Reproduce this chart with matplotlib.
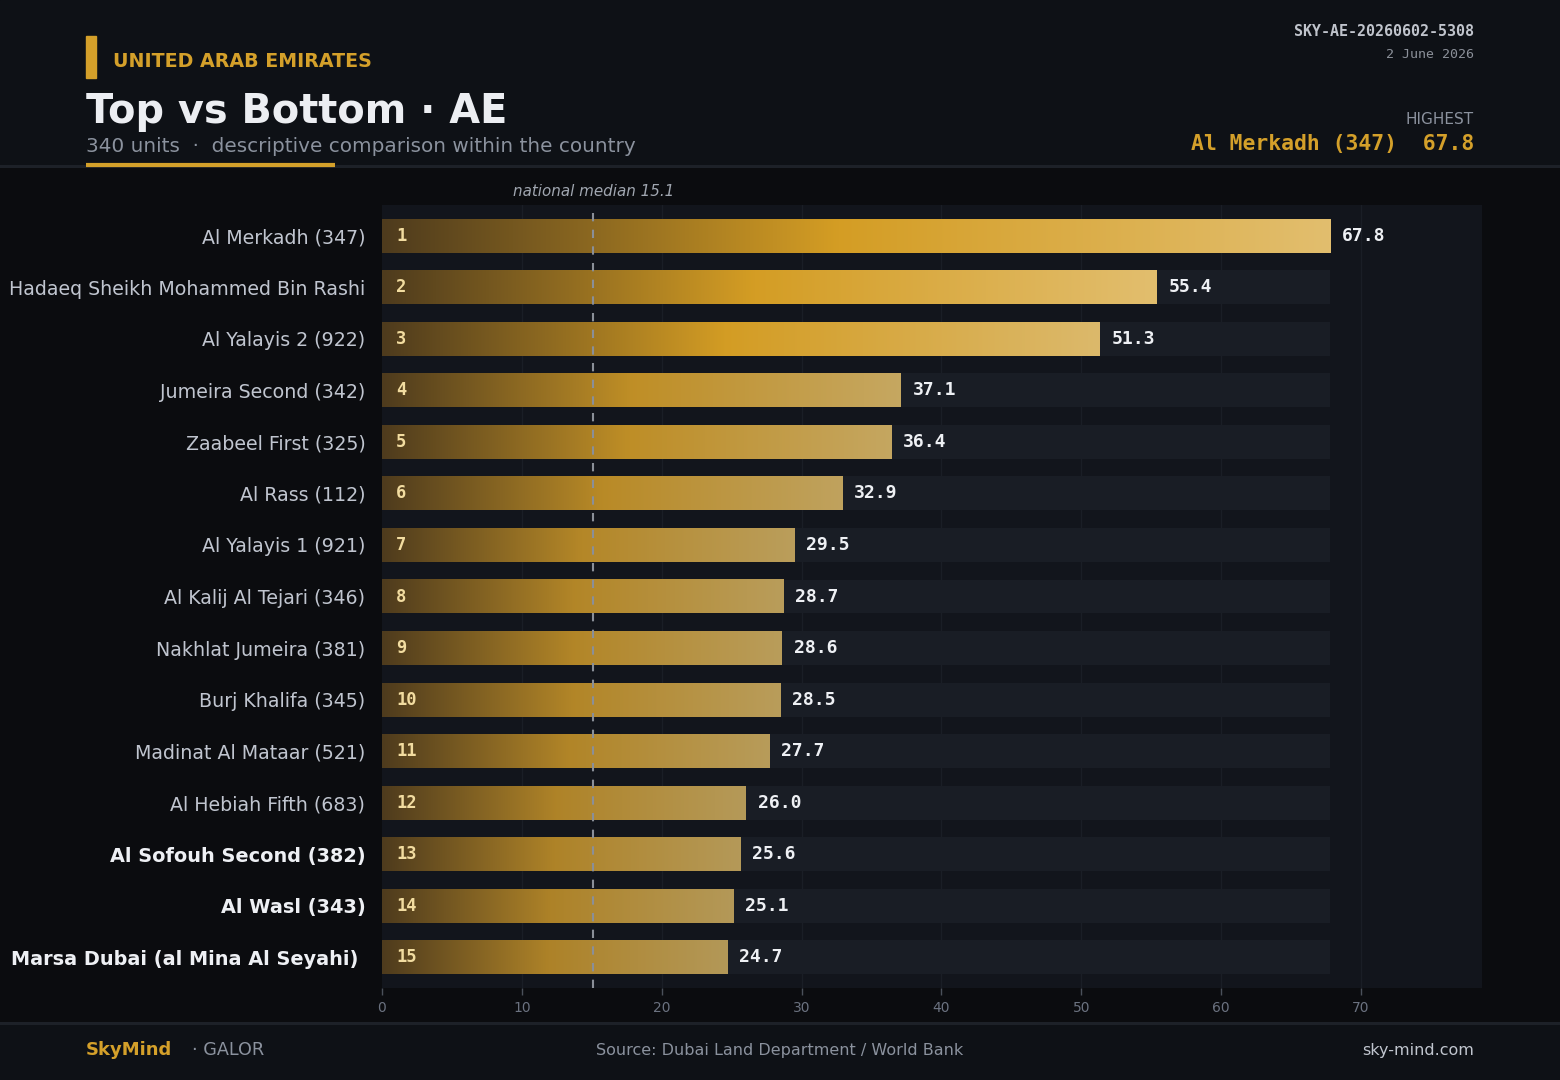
import numpy as np
import matplotlib
matplotlib.use("Agg")
import matplotlib.pyplot as plt
from matplotlib.colors import to_rgb
import matplotlib.transforms as mtransforms

# data
labels = ["Al Merkadh (347)", "Hadaeq Sheikh Mohammed Bin Rashi", "Al Yalayis 2 (922)",
          "Jumeira Second (342)", "Zaabeel First (325)", "Al Rass (112)",
          "Al Yalayis 1 (921)", "Al Kalij Al Tejari (346)", "Nakhlat Jumeira (381)",
          "Burj Khalifa (345)", "Madinat Al Mataar (521)", "Al Hebiah Fifth (683)",
          "Al Sofouh Second (382)", "Al Wasl (343)", "Marsa Dubai (al Mina Al Seyahi) "]
values = [67.8, 55.4, 51.3, 37.1, 36.4, 32.9, 29.5, 28.7, 28.6, 28.5, 27.7, 26.0, 25.6, 25.1, 24.7]
ranks = list(range(1, 16))
bold_rows = [12, 13, 14]
median = 15.1
xticks = [0, 10, 20, 30, 40, 50, 60, 70]

BG = "#0b0c0f"
HEAD = "#0e1116"
GOLD = "#d4a02a"
GREY = "#8b929e"

fig = plt.figure(figsize=(15.6, 10.8), dpi=100, facecolor=BG)

# header / footer panels
fig.patches.append(plt.Rectangle((0, 1 - 165 / 1080), 1, 165 / 1080, transform=fig.transFigure,
                                 color=HEAD, zorder=0))
fig.patches.append(plt.Rectangle((0, 0), 1, 56 / 1080, transform=fig.transFigure,
                                 color=HEAD, zorder=0))
fig.add_artist(plt.Line2D([0, 1], [1 - 166 / 1080] * 2, color="#1d2128", lw=2.2))
fig.add_artist(plt.Line2D([0, 1], [1 - 1023 / 1080] * 2, color="#1d2128", lw=2.2))
fig.add_artist(plt.Line2D([86 / 1560, 335 / 1560], [1 - 165 / 1080] * 2, color=GOLD, lw=3,
                          solid_capstyle="butt"))
fig.patches.append(plt.Rectangle((86 / 1560, 1 - 78 / 1080), 10 / 1560, 42 / 1080,
                                 transform=fig.transFigure, color=GOLD, zorder=2))

# header texts
fig.text(113 / 1560, 1 - 62 / 1080, "UNITED ARAB EMIRATES", color=GOLD, fontsize=13.7,
         fontweight="bold", va="center", ha="left")
fig.text(86 / 1560, 1 - 112 / 1080, "Top vs Bottom · AE", color="#eceef2", fontsize=28.7,
         fontweight="bold", va="center", ha="left")
fig.text(86 / 1560, 1 - 147 / 1080, "340 units  ·  descriptive comparison within the country",
         color=GREY, fontsize=14.4, va="center", ha="left")
fig.text(1474 / 1560, 1 - 32 / 1080, "SKY-AE-20260602-5308", color="#c0c4cc", fontsize=10.8,
         fontweight="bold", family="DejaVu Sans Mono", va="center", ha="right")
fig.text(1474 / 1560, 1 - 54 / 1080, "2 June 2026", color="#8b9099", fontsize=9.5,
         family="DejaVu Sans Mono", va="center", ha="right")
fig.text(1474 / 1560, 1 - 120 / 1080, "HIGHEST", color=GREY, fontsize=11,
         va="center", ha="right")
fig.text(1474 / 1560, 1 - 144 / 1080, f"{labels[0]}  {values[0]}", color=GOLD, fontsize=15.4,
         fontweight="bold", family="DejaVu Sans Mono", va="center", ha="right")

# footer texts
fig.text(86 / 1560, 1 - 1050 / 1080, "SkyMind", color=GOLD, fontsize=13, fontweight="bold",
         va="center", ha="left")
fig.text(192 / 1560, 1 - 1050 / 1080, "· GALOR", color=GREY, fontsize=12.7,
         va="center", ha="left")
fig.text(780 / 1560, 1 - 1050 / 1080, "Source: Dubai Land Department / World Bank", color=GREY,
         fontsize=11.5, va="center", ha="center")
fig.text(1474 / 1560, 1 - 1050 / 1080, "sky-mind.com", color="#c0c5ce", fontsize=11.5,
         va="center", ha="right")

# chart
ax = fig.add_axes([382 / 1560, 1 - 988 / 1080, 1100 / 1560, 783 / 1080])
ax.set_facecolor("#12151c")
xmax = 1100 / (979 / 70)
for s in ax.spines.values():
    s.set_visible(False)

for xt in xticks[1:]:
    ax.axvline(xt, color="#1a1e26", lw=1, zorder=0.5)

h = 0.66
y = np.arange(len(values))
ax.barh(y, max(values), height=h, color="#191d25", zorder=1)


def mix(a, b, t):
    a, b = np.array(to_rgb(a)), np.array(to_rgb(b))
    return a + (b - a) * t


vmin, vmax = min(values), max(values)
n = 256
xs = np.linspace(0, 1, n)
for i, v in enumerate(values):
    t = (v - vmin) / (vmax - vmin)
    start = np.array(to_rgb("#4e3b1d"))
    mid = mix("#ad8228", "#d49d24", min(1, t * 1.6))
    end = mix("#b39858", "#e2be6e", min(1, t * 1.4))
    mp = 0.48
    grad = np.zeros((1, n, 3))
    for k, xx in enumerate(xs):
        if xx < mp:
            grad[0, k] = start + (mid - start) * (xx / mp)
        else:
            grad[0, k] = mid + (end - mid) * ((xx - mp) / (1 - mp))
    ax.imshow(grad, extent=[0, v, i + h / 2, i - h / 2], aspect="auto", zorder=2,
              interpolation="bilinear")
    ax.text(1.0, i, str(ranks[i]), color="#f2dca0", fontsize=12.3, fontweight="bold",
            family="DejaVu Sans Mono", va="center", ha="left", zorder=4)
    ax.text(v + 0.85, i, f"{v:.1f}", color="#eef0f4", fontsize=13, fontweight="bold",
            family="DejaVu Sans Mono", va="center", ha="left", zorder=4)

ax.set_aspect("auto")
ax.set_xlim(0, xmax)
ax.set_ylim(len(values) - 0.4, -0.6)

ax.axvline(median, color="#8a8f98", lw=1.5, ls=(0, (4, 4)), zorder=3)
trans = mtransforms.blended_transform_factory(ax.transData, ax.transAxes)
ax.text(median, 1 + 14 / 783, f"national median {median}", transform=trans, color="#a0a6b0",
        fontsize=10.9, style="italic", ha="center", va="center")

ax.set_yticks(y)
ax.set_yticklabels(labels)
for i, tl in enumerate(ax.get_yticklabels()):
    if i in bold_rows:
        tl.set_fontweight("bold")
        tl.set_color("#eef0f4")
        tl.set_fontsize(13.9)
    else:
        tl.set_color("#c0c5cf")
        tl.set_fontsize(13.7)
ax.tick_params(axis="y", length=0, pad=12)
ax.set_xticks(xticks)
ax.tick_params(axis="x", colors="#4a505a", labelcolor="#6b7280", labelsize=10, length=5,
               width=1, pad=4)

fig.savefig("out.png", dpi=100, facecolor=fig.get_facecolor())
